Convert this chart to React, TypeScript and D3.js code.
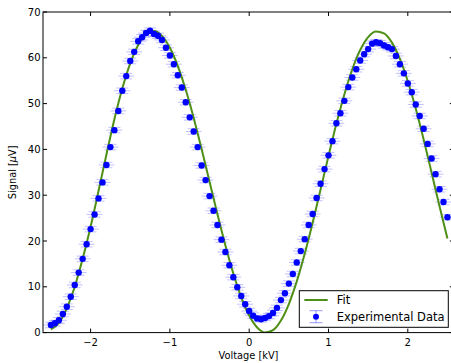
import React from "react";
import * as d3 from "d3";

// ---- data ----
const voltage = [
  -2.5, -2.45, -2.4, -2.35, -2.3, -2.25, -2.2, -2.15, -2.1, -2.05,
  -2.0, -1.95, -1.9, -1.85, -1.8, -1.75, -1.7, -1.65, -1.6, -1.55,
  -1.5, -1.45, -1.4, -1.35, -1.3, -1.25, -1.2, -1.15, -1.1, -1.05,
  -1.0, -0.95, -0.9, -0.85, -0.8, -0.75, -0.7, -0.65, -0.6, -0.55,
  -0.5, -0.45, -0.4, -0.35, -0.3, -0.25, -0.2, -0.15, -0.1, -0.05,
  0.0, 0.05, 0.1, 0.15, 0.2, 0.25, 0.3, 0.35, 0.4, 0.45,
  0.5, 0.55, 0.6, 0.65, 0.7, 0.75, 0.8, 0.85, 0.9, 0.95,
  1.0, 1.05, 1.1, 1.15, 1.2, 1.25, 1.3, 1.35, 1.4, 1.45,
  1.5, 1.55, 1.6, 1.65, 1.7, 1.75, 1.8, 1.85, 1.9, 1.95,
  2.0, 2.05, 2.1, 2.15, 2.2, 2.25, 2.3, 2.35, 2.4, 2.45, 2.5,
];
const signal = [
  1.66, 2.03, 2.69, 4.06, 5.66, 7.84, 10.4, 13.1, 16.1, 19.3,
  22.6, 25.8, 29.3, 32.8, 36.6, 40.5, 44.2, 48.4, 52.8, 56.0,
  59.3, 61.3, 63.6, 64.5, 65.4, 65.9, 65.2, 64.8, 63.9, 62.2,
  60.5, 58.6, 56.2, 53.5, 50.3, 47.0, 43.9, 40.5, 36.5, 33.3,
  29.8, 26.6, 23.5, 20.3, 17.6, 14.7, 12.1, 9.9, 8.0, 6.2,
  4.7, 3.7, 3.1, 2.9, 3.2, 3.6, 4.3, 5.4, 7.1, 8.6,
  10.7, 12.8, 15.3, 17.8, 20.4, 23.5, 25.9, 29.4, 32.5, 35.7,
  38.7, 41.8, 45.7, 47.9, 50.6, 53.6, 55.7, 57.5, 59.4, 60.8,
  61.9, 63.1, 63.4, 63.2, 62.7, 62.3, 61.9, 60.4, 58.6, 56.6,
  54.4, 52.5, 49.8, 47.3, 44.5, 41.2, 38.0, 34.6, 31.3, 28.5, 25.2,
];
const voltageErr = 0.1;
const signalErr = 0.6;

const fitVoltage = [
  -2.5, -2.4, -2.3, -2.2, -2.1, -2.0, -1.9, -1.8, -1.7, -1.6,
  -1.5, -1.4, -1.3, -1.2, -1.1, -1.0, -0.9, -0.8, -0.7, -0.6,
  -0.5, -0.4, -0.3, -0.2, -0.1, 0.0, 0.1, 0.2, 0.3, 0.4,
  0.5, 0.6, 0.7, 0.8, 0.9, 1.0, 1.1, 1.2, 1.3, 1.4,
  1.5, 1.6, 1.7, 1.8, 1.9, 2.0, 2.1, 2.2, 2.3, 2.4, 2.5,
];
const fitSignal = [
  0.7, 2.1, 5.3, 10.0, 16.1, 23.1, 30.9, 38.9, 46.6, 53.3,
  58.8, 62.8, 65.2, 65.87, 64.78, 62.18, 58.19, 53.01, 46.88, 40.09,
  32.95, 25.82, 19.03, 12.91, 7.71, 3.72, 1.12, 0.03, 0.52, 2.63,
  6.24, 11.18, 17.2, 23.99, 31.24, 38.58, 45.63, 52.0, 57.5, 61.72,
  64.52, 65.75, 65.34, 63.31, 59.77, 54.89, 48.92, 42.15, 34.92, 27.59, 20.53,
];

const xTicks = [-2, -1, 0, 1, 2];
const yTicks = [0, 10, 20, 30, 40, 50, 60, 70];

const W = 451;
const H = 363;
const FONT = "DejaVu Sans, sans-serif";

export default function App() {
  const x = d3.scaleLinear().domain([-2.6, 2.58]).range([43, 453.8]);
  const y = d3.scaleLinear().domain([0, 70]).range([332.6, 12]);
  const [x0, x1] = x.range();
  const [yb, yt] = y.range();

  const fitLine = d3
    .line<number>()
    .x((_, i) => x(fitVoltage[i]))
    .y((d) => y(d))
    .curve(d3.curveMonotoneX)(fitSignal) as string;

  const errColor = "#3333ff";
  const errOpacity = 0.3;
  const green = "#4e8f16";
  const capHalf = 6;

  const fmt = (v: number) => (v < 0 ? "\u2212" + Math.abs(v) : String(v));

  // legend geometry
  const lx = 299.3, ly = 290.7, lw = 149, lh = 36.6;

  return (
    <svg
      width={W}
      height={H}
      style={{ position: "absolute", left: 0, top: 0, background: "#fff" }}
      fontFamily={FONT}
    >
      <defs>
        <clipPath id="plot">
          <rect x={x0} y={yt} width={x1 - x0} height={yb - yt} />
        </clipPath>
      </defs>
      <rect x={0} y={0} width={W} height={H} fill="#fff" />

      <g clipPath="url(#plot)">
        {/* error bars */}
        {voltage.map((v, i) => {
          const cx = x(v);
          const cy = y(signal[i]);
          return (
            <g key={"e" + i} stroke={errColor} strokeOpacity={errOpacity} strokeWidth={1}>
              <line x1={x(v - voltageErr)} x2={x(v + voltageErr)} y1={cy} y2={cy} />
              <line x1={cx} x2={cx} y1={y(signal[i] - signalErr)} y2={y(signal[i] + signalErr)} />
              <line x1={cx - capHalf} x2={cx + capHalf} y1={y(signal[i] - signalErr)} y2={y(signal[i] - signalErr)} />
              <line x1={cx - capHalf} x2={cx + capHalf} y1={y(signal[i] + signalErr)} y2={y(signal[i] + signalErr)} />
            </g>
          );
        })}
        {/* fit */}
        <path d={fitLine} fill="none" stroke={green} strokeWidth={2} />
        {/* points */}
        {voltage.map((v, i) => (
          <circle key={"p" + i} cx={x(v)} cy={y(signal[i])} r={3.2} fill="#0000ff" />
        ))}
      </g>

      {/* frame */}
      <rect x={x0} y={yt} width={x1 - x0} height={yb - yt} fill="none" stroke="#000" strokeWidth={1} />

      {/* x ticks */}
      {xTicks.map((t) => (
        <g key={"xt" + t}>
          <line x1={x(t)} x2={x(t)} y1={yb} y2={yb - 4} stroke="#000" />
          <line x1={x(t)} x2={x(t)} y1={yt} y2={yt + 4} stroke="#000" />
          <text x={x(t)} y={346} fontSize={10} textAnchor="middle" fill="#000">
            {fmt(t)}
          </text>
        </g>
      ))}
      {/* y ticks */}
      {yTicks.map((t) => (
        <g key={"yt" + t}>
          <line x1={x0} x2={x0 + 4} y1={y(t)} y2={y(t)} stroke="#000" />
          <line x1={x1} x2={x1 - 4} y1={y(t)} y2={y(t)} stroke="#000" />
          <text x={40.5} y={y(t)} dy="0.36em" fontSize={10} textAnchor="end" fill="#000">
            {fmt(t)}
          </text>
        </g>
      ))}

      {/* axis labels */}
      <text x={248.5} y={359} fontSize={9.8} textAnchor="middle" fill="#000">
        Voltage [kV]
      </text>
      <text transform={`translate(15.5, ${(yt + yb) / 2}) rotate(-90)`} fontSize={9.8} textAnchor="middle" fill="#000">
        Signal [<tspan fontStyle="italic">μ</tspan>V]
      </text>

      {/* legend */}
      <rect x={lx} y={ly} width={lw} height={lh} fill="#fff" stroke="#000" strokeWidth={1} />
      <line x1={304.3} x2={327.7} y1={300} y2={300} stroke={green} strokeWidth={2} />
      <text x={336.7} y={300} dy="0.36em" fontSize={11.5} fill="#000">
        Fit
      </text>
      <g stroke={errColor} strokeOpacity={0.5} strokeWidth={1}>
        <line x1={316} x2={316} y1={310.7} y2={322.7} />
        <line x1={309.5} x2={322.5} y1={310.7} y2={310.7} />
        <line x1={309.5} x2={322.5} y1={322.7} y2={322.7} />
      </g>
      <circle cx={316} cy={316.7} r={3} fill="#0000ff" />
      <text x={336.7} y={316.7} dy="0.36em" fontSize={11.5} fill="#000">
        Experimental Data
      </text>
    </svg>
  );
}
